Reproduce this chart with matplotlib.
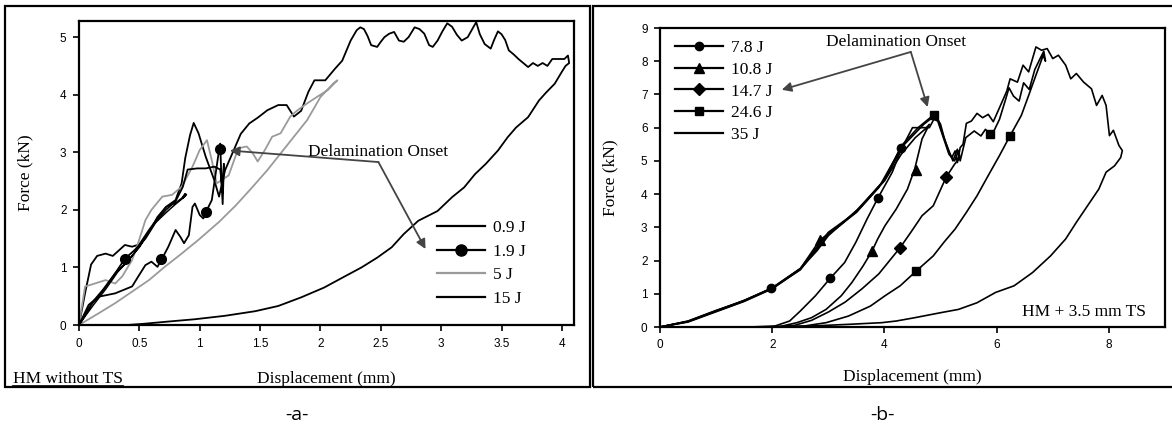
import matplotlib
matplotlib.use('Agg')
import matplotlib.pyplot as plt
from matplotlib.lines import Line2D
from matplotlib.patches import Rectangle
from matplotlib.ticker import FormatStrFormatter, MultipleLocator

SERIF = 'Liberation Serif'
SANS = 'Liberation Sans'
GREY = '#9a9a9a'
ARROW = '#444444'

# ---------------- panel a : HM without TS ----------------
disp_09 = [0, 0.06, 0.12, 0.2, 0.3, 0.4, 0.5, 0.58, 0.65, 0.72, 0.8, 0.85, 0.88, 0.86, 0.89, 0.87,
           0.8, 0.72, 0.62, 0.52, 0.42, 0.32, 0.22, 0.12, 0.05, 0]
force_09 = [0, 0.2, 0.42, 0.62, 0.9, 1.1, 1.35, 1.62, 1.88, 2.05, 2.12, 2.2, 2.28, 2.2, 2.27, 2.22,
            2.1, 1.95, 1.75, 1.42, 1.15, 0.92, 0.62, 0.35, 0.15, 0]

disp_19 = [0, 0.08, 0.16, 0.3, 0.44, 0.49, 0.55, 0.6, 0.65, 0.69, 0.74, 0.8, 0.84, 0.87, 0.91, 0.94,
           0.96, 1.0, 1.03, 1.06, 1.1, 1.13, 1.16, 1.17, 1.18, 1.19, 1.2, 1.19, 1.17,
           1.12, 1.05, 0.98, 0.9, 0.86, 0.8, 0.72, 0.64, 0.55, 0.46, 0.38, 0.3, 0.2, 0.1, 0]
force_19 = [0, 0.35, 0.49, 0.55, 0.67, 0.84, 1.04, 1.1, 1.01, 1.16, 1.36, 1.65, 1.53, 1.42, 1.56, 2.05,
            2.11, 1.91, 1.85, 2.0, 2.17, 2.6, 3.04, 3.15, 2.5, 2.1, 2.8, 2.3, 2.7,
            2.75, 2.72, 2.72, 2.7, 2.4, 2.15, 2.0, 1.8, 1.5, 1.3, 1.15, 0.9, 0.6, 0.35, 0]
mark_disp_19 = [0.38, 0.68, 1.05, 1.17]
mark_force_19 = [1.15, 1.15, 1.97, 3.05]

disp_5 = [0, 0.05, 0.1, 0.16, 0.22, 0.3, 0.36, 0.44, 0.48, 0.55, 0.6, 0.69, 0.77, 0.85, 0.94, 1.0,
          1.06, 1.1, 1.14, 1.17, 1.24, 1.32, 1.39, 1.44, 1.48, 1.54, 1.6, 1.67, 1.75, 1.81, 1.89,
          1.97, 2.06, 2.14,
          2.11, 2.0, 1.89, 1.78, 1.67, 1.56, 1.43, 1.3, 1.16, 0.99, 0.85, 0.71, 0.58, 0.44, 0.3,
          0.16, 0]
force_5 = [0, 0.67, 0.7, 0.74, 0.78, 0.72, 0.85, 1.13, 1.36, 1.82, 2.0, 2.23, 2.26, 2.4, 2.75, 3.04,
           3.21, 2.86, 2.46, 2.5, 2.6, 3.07, 3.1, 2.98, 2.84, 3.04, 3.27, 3.33, 3.62, 3.73, 3.85,
           3.96, 4.08, 4.25,
           4.2, 3.96, 3.56, 3.27, 2.98, 2.69, 2.38, 2.08, 1.79, 1.48, 1.24, 1.01, 0.78, 0.58, 0.38,
           0.2, 0]

disp_15 = [0, 0.05, 0.1, 0.15, 0.22, 0.28, 0.38, 0.44, 0.5, 0.58, 0.66, 0.72, 0.8, 0.85, 0.88,
           0.92, 0.95, 0.99, 1.05, 1.12, 1.16, 1.21, 1.27, 1.34, 1.41, 1.48, 1.56, 1.65, 1.72, 1.78,
           1.84, 1.9, 1.95, 2.04, 2.12, 2.18, 2.25, 2.3, 2.33, 2.36, 2.39, 2.42, 2.47, 2.5, 2.53,
           2.57, 2.61, 2.65, 2.69, 2.73, 2.78, 2.82, 2.86, 2.9, 2.93, 2.97, 3.01, 3.05, 3.09, 3.13,
           3.17, 3.22, 3.26, 3.29, 3.32, 3.36, 3.41, 3.44, 3.47, 3.5, 3.53, 3.56, 3.6, 3.64, 3.68,
           3.72, 3.76, 3.8, 3.84, 3.88, 3.92, 3.97, 4.02, 4.05, 4.06,
           4.03, 4.0, 3.94, 3.87, 3.81, 3.72, 3.62, 3.55, 3.47, 3.37, 3.28, 3.19, 3.09, 2.97, 2.81,
           2.69, 2.59, 2.47, 2.34, 2.18, 2.03, 1.84, 1.65, 1.46, 1.21, 0.96, 0.74, 0.53, 0.4]
force_15 = [0, 0.55, 1.05, 1.2, 1.24, 1.2, 1.39, 1.36, 1.4, 1.65, 1.88, 2.05, 2.17, 2.46, 2.9,
            3.3, 3.51, 3.33, 2.92, 2.52, 2.23, 2.69, 2.98, 3.32, 3.5, 3.6, 3.73, 3.82, 3.82, 3.62,
            3.72, 4.05, 4.25, 4.25, 4.45, 4.59, 4.94, 5.12, 5.17, 5.14, 5.02, 4.86, 4.83, 4.92, 5.0,
            5.06, 5.09, 4.94, 4.92, 5.0, 5.17, 5.14, 5.06, 4.86, 4.83, 4.94, 5.1, 5.24, 5.18, 5.04,
            4.94, 5.0, 5.15, 5.26, 5.05, 4.88, 4.8, 4.96, 5.1, 5.05, 4.95, 4.77, 4.7, 4.62, 4.55,
            4.48, 4.55, 4.5, 4.55, 4.5, 4.62, 4.62, 4.62, 4.68, 4.55,
            4.5, 4.4, 4.19, 4.04, 3.9, 3.61, 3.43, 3.26, 3.03, 2.8, 2.62, 2.39, 2.22, 1.98, 1.81,
            1.58, 1.35, 1.17, 1.0, 0.82, 0.65, 0.48, 0.33, 0.24, 0.16, 0.1, 0.06, 0.02, 0]

# ---------------- panel b : HM + 3.5 mm TS ----------------
disp_78 = [0, 0.5, 1.0, 1.5, 2.0, 2.5, 3.0, 3.5, 3.9, 4.15, 4.3, 4.34,
           4.31, 4.14, 3.88, 3.69, 3.49, 3.29, 3.03, 2.77, 2.5, 2.31, 2.05, 1.6]
force_78 = [0, 0.16, 0.47, 0.78, 1.16, 1.72, 2.78, 3.45, 4.2, 4.95, 5.38, 5.48,
            5.4, 4.66, 3.87, 3.25, 2.55, 1.94, 1.46, 0.94, 0.48, 0.18, 0.03, 0]
mark_disp_78 = [1.97, 3.03, 3.88, 4.3]
mark_force_78 = [1.16, 1.46, 3.87, 5.38]

disp_108 = [0, 0.5, 1.0, 1.5, 2.0, 2.5, 2.85, 3.2, 3.6, 4.0, 4.3, 4.55, 4.72, 4.8,
            4.67, 4.54, 4.41, 4.21, 4.01, 3.88, 3.78, 3.62, 3.42, 3.23, 2.96, 2.7, 2.44, 2.18, 1.9]
force_108 = [0, 0.17, 0.49, 0.8, 1.17, 1.75, 2.62, 3.05, 3.65, 4.4, 5.2, 5.7, 5.95, 6.1,
             5.66, 4.76, 4.15, 3.55, 3.05, 2.65, 2.29, 1.84, 1.34, 0.94, 0.53, 0.28, 0.13, 0.03, 0]
mark_disp_108 = [2.85, 3.78, 4.56]
mark_force_108 = [2.62, 2.29, 4.73]

disp_147 = [0, 0.5, 1.0, 1.5, 2.0, 2.5, 3.0, 3.5, 4.0, 4.3, 4.5, 4.8, 4.88, 4.95, 5.05, 5.15,
            5.25, 5.32, 5.35,
            5.25, 5.1, 4.87, 4.67, 4.47, 4.28, 3.9, 3.6, 3.3, 3.0, 2.7, 2.4, 2.1]
force_147 = [0, 0.15, 0.46, 0.77, 1.15, 1.74, 2.8, 3.47, 4.42, 5.35, 6.0, 6.0, 6.25, 6.2, 5.7, 5.2,
             5.0, 5.3, 5.1,
             4.9, 4.51, 3.65, 3.35, 2.85, 2.39, 1.6, 1.15, 0.75, 0.45, 0.2, 0.05, 0]
mark_disp_147 = [4.28, 5.1]
mark_force_147 = [2.39, 4.51]

disp_246 = [0, 0.5, 1.0, 1.5, 2.0, 2.5, 3.0, 3.5, 4.0, 4.3, 4.6, 4.88, 4.95, 5.05, 5.15, 5.22,
            5.3, 5.35, 5.45, 5.6, 5.72, 5.8, 5.88, 5.95, 6.05, 6.15, 6.22, 6.3, 6.4, 6.48, 6.58,
            6.68, 6.78, 6.84, 6.87,
            6.83, 6.7, 6.57, 6.44, 6.24, 6.05, 5.85, 5.65, 5.46, 5.26, 5.06, 4.87, 4.57, 4.28,
            4.01, 3.75, 3.36, 2.96, 2.57, 2.05]
force_246 = [0, 0.18, 0.5, 0.79, 1.18, 1.76, 2.85, 3.46, 4.43, 5.45, 6.0, 6.39, 6.25, 5.75, 5.3,
             5.0, 5.35, 5.0, 5.7, 5.9, 5.75, 5.95, 5.81, 5.9, 6.25, 6.8, 7.2, 6.95, 6.8, 7.35, 7.15,
             7.75, 8.1, 8.3, 8.0,
             8.18, 7.58, 6.97, 6.37, 5.76, 5.16, 4.56, 3.95, 3.45, 2.95, 2.55, 2.14, 1.69, 1.24,
             0.94, 0.63, 0.33, 0.13, 0.03, 0]
mark_disp_246 = [4.57, 4.88, 5.88, 6.24]
mark_force_246 = [1.69, 6.39, 5.81, 5.76]

disp_35 = [0, 0.5, 1.0, 1.5, 2.0, 2.5, 2.8, 3.0, 3.5, 4.0, 4.3, 4.5, 4.7, 4.85, 4.92, 5.0, 5.08,
           5.15, 5.2, 5.26, 5.3, 5.35, 5.4, 5.46, 5.55, 5.65, 5.75, 5.85, 5.94, 6.05, 6.18, 6.24,
           6.37, 6.47, 6.57, 6.7, 6.8, 6.9, 7.0, 7.1, 7.23, 7.32, 7.42, 7.55, 7.69, 7.78, 7.88,
           7.95, 8.01, 8.08, 8.18, 8.24,
           8.21, 8.1, 7.95, 7.82, 7.62, 7.42, 7.23, 6.96, 6.64, 6.31, 5.98, 5.65, 5.32, 5.0, 4.54,
           4.21, 3.95, 3.36, 2.7, 2.05]
force_35 = [0, 0.17, 0.48, 0.8, 1.17, 1.75, 2.3, 2.75, 3.5, 4.42, 5.4, 5.75, 6.1, 6.3, 6.35, 6.1,
            5.6, 5.25, 5.1, 5.3, 4.95, 5.4, 5.5, 6.13, 6.2, 6.43, 6.3, 6.4, 6.18, 6.6, 7.1, 7.47,
            7.37, 7.88, 7.68, 8.43, 8.33, 8.38, 8.08, 8.18, 7.88, 7.47, 7.63, 7.37, 7.17, 6.67, 6.97,
            6.67, 5.76, 5.92, 5.46, 5.31,
            5.1, 4.85, 4.66, 4.15, 3.65, 3.15, 2.65, 2.14, 1.64, 1.24, 1.04, 0.73, 0.53, 0.43, 0.28,
            0.18, 0.13, 0.08, 0.03, 0]

labels_a = ['0.9 J', '1.9 J', '5 J', '15 J']
labels_b = ['7.8 J', '10.8 J', '14.7 J', '24.6 J', '35 J']


def style_axes(ax, xmax, ymax, xstep):
    ax.set_xlim(0, xmax)
    ax.set_ylim(0, ymax)
    ax.xaxis.set_major_locator(MultipleLocator(xstep))
    ax.yaxis.set_major_locator(MultipleLocator(1))
    ax.xaxis.set_major_formatter(FormatStrFormatter('%g'))
    ax.yaxis.set_major_formatter(FormatStrFormatter('%g'))
    for s in ax.spines.values():
        s.set_linewidth(1.6)
    ax.tick_params(direction='out', length=4, width=1.2, labelsize=8.5, pad=5)
    for lab in ax.get_xticklabels() + ax.get_yticklabels():
        lab.set_fontfamily(SANS)
    ax.set_xlabel('Displacement (mm)', fontfamily=SERIF, fontsize=12.5)
    ax.set_ylabel('Force (kN)', fontfamily=SERIF, fontsize=12.5)


fig = plt.figure(figsize=(11.72, 4.4), dpi=100)
fig.patch.set_facecolor('white')

# panel frames
fig.add_artist(Rectangle((5 / 1172, 53 / 440), 585 / 1172, 381 / 440, transform=fig.transFigure,
                         fill=False, lw=1.6, ec='black'))
fig.add_artist(Rectangle((593 / 1172, 53 / 440), 590 / 1172, 381 / 440, transform=fig.transFigure,
                         fill=False, lw=1.6, ec='black'))

# ---- left ----
ax1 = fig.add_axes([79 / 1172, 115 / 440, 495 / 1172, 304 / 440])
ax1.plot(disp_15, force_15, color='black', lw=1.3)
ax1.plot(disp_5, force_5, color=GREY, lw=1.3)
ax1.plot(disp_09, force_09, color='black', lw=1.1)
ax1.plot(disp_19, force_19, color='black', lw=1.3)
ax1.plot(mark_disp_19, mark_force_19, ls='none', marker='o', ms=7, color='black')
style_axes(ax1, 4.1, 5.28, 0.5)
ax1.xaxis.set_label_coords(0.5, -0.15)
ax1.yaxis.set_label_coords(-0.092, 0.5)

handles_a = [Line2D([], [], color='black', lw=1.6),
             Line2D([], [], color='black', lw=1.6, marker='o', ms=8),
             Line2D([], [], color=GREY, lw=1.6),
             Line2D([], [], color='black', lw=1.6)]
ax1.legend(handles_a, labels_a, loc='upper left', bbox_to_anchor=(0.724, 0.345), frameon=False,
           handlelength=2.76, handletextpad=0.45, labelspacing=0.42, borderpad=0,
           borderaxespad=0, numpoints=1, prop={'family': SERIF, 'size': 12.5})

ax1.text(1.9, 3.0, 'Delamination Onset', fontfamily=SERIF, fontsize=12.5, ha='left', va='center')
arr = dict(arrowstyle='-|>', color=ARROW, lw=1.3, mutation_scale=14, shrinkA=0, shrinkB=0)
ax1.annotate('', xy=(1.25, 3.03), xytext=(2.48, 2.83), arrowprops=arr)
ax1.annotate('', xy=(2.87, 1.32), xytext=(2.48, 2.83), arrowprops=arr)

# ---- right ----
ax2 = fig.add_axes([660 / 1172, 113 / 440, 505 / 1172, 299 / 440])
ax2.plot(disp_35, force_35, color='black', lw=1.2)
ax2.plot(disp_246, force_246, color='black', lw=1.2)
ax2.plot(disp_147, force_147, color='black', lw=1.2)
ax2.plot(disp_108, force_108, color='black', lw=1.2)
ax2.plot(disp_78, force_78, color='black', lw=1.2)
ax2.plot(mark_disp_78, mark_force_78, ls='none', marker='o', ms=6, color='black')
ax2.plot(mark_disp_108, mark_force_108, ls='none', marker='^', ms=6.5, color='black')
ax2.plot(mark_disp_147, mark_force_147, ls='none', marker='D', ms=6, color='black')
ax2.plot(mark_disp_246, mark_force_246, ls='none', marker='s', ms=5.5, color='black')
style_axes(ax2, 9.0, 9.0, 2)
ax2.xaxis.set_label_coords(0.5, -0.14)
ax2.yaxis.set_label_coords(-0.083, 0.5)

handles_b = [Line2D([], [], color='black', lw=1.6, marker='o', ms=6),
             Line2D([], [], color='black', lw=1.6, marker='^', ms=7),
             Line2D([], [], color='black', lw=1.6, marker='D', ms=6.5),
             Line2D([], [], color='black', lw=1.6, marker='s', ms=6),
             Line2D([], [], color='black', lw=1.6)]
ax2.legend(handles_b, labels_b, loc='upper left', bbox_to_anchor=(0.03, 0.96), frameon=False,
           handlelength=2.76, handletextpad=0.45, labelspacing=0.32, borderpad=0,
           borderaxespad=0, numpoints=1, prop={'family': SERIF, 'size': 12.5})

ax2.text(4.21, 8.58, 'Delamination Onset', fontfamily=SERIF, fontsize=12.5, ha='center', va='center')
ax2.annotate('', xy=(2.17, 7.14), xytext=(4.47, 8.28), arrowprops=arr)
ax2.annotate('', xy=(4.77, 6.62), xytext=(4.47, 8.28), arrowprops=arr)
ax2.text(0.963, 0.025, 'HM + 3.5 mm TS', transform=ax2.transAxes, fontfamily=SERIF,
         fontsize=12.5, ha='right', va='bottom')

# panel captions
hm = fig.text(13 / 1172, 57 / 440, 'HM without TS', fontfamily=SERIF, fontsize=12.5,
              ha='left', va='baseline')
fig.text(297 / 1172, 25 / 440, '-a-', fontfamily='Open Sans', fontsize=14, ha='center', va='center')
fig.text(882 / 1172, 25 / 440, '-b-', fontfamily='Open Sans', fontsize=14, ha='center', va='center')

fig.canvas.draw()
bb = hm.get_window_extent()
W, H = fig.bbox.width, fig.bbox.height
fig.add_artist(Line2D([bb.x0 / W, bb.x1 / W], [(bb.y0 + 1) / H, (bb.y0 + 1) / H],
                      transform=fig.transFigure, color='black', lw=1.2))

fig.savefig('out.png', dpi=100, facecolor='white')
